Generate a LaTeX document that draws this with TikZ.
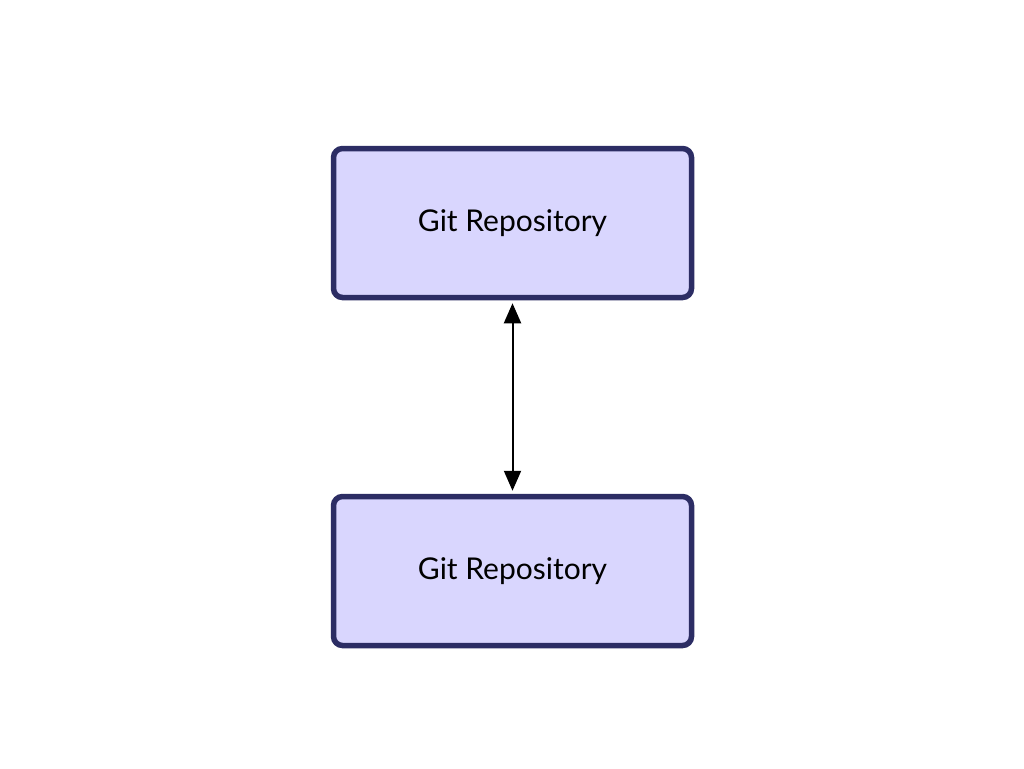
\documentclass[tikz,border=0pt]{standalone}
\usepackage{fontspec}
\setmainfont{Lato}
\usetikzlibrary{arrows.meta}
\definecolor{boxfill}{RGB}{217,214,254}
\definecolor{boxline}{RGB}{44,45,100}
\tikzset{
  repo/.style={draw=boxline, fill=boxfill, line width=5.5pt, rounded corners=9pt,
    minimum width=358pt, minimum height=149pt, inner sep=0pt,
    font=\fontsize{30}{34}\selectfont},
  link/.style={line width=2pt, {Triangle[length=20pt,width=17pt]}-{Triangle[length=20pt,width=17pt]}}
}
\begin{document}
\begin{tikzpicture}[x=1pt,y=-1pt]
\useasboundingbox (0,0) rectangle (1024,768);
\node[repo] (top) at (512.5,223) {\raisebox{-4pt}{Git Repository}};
\node[repo] (bot) at (512.5,571) {\raisebox{-4pt}{Git Repository}};
\draw[link] ([yshift=-3pt]top.south) -- ([yshift=3pt]bot.north);
\end{tikzpicture}
\end{document}
